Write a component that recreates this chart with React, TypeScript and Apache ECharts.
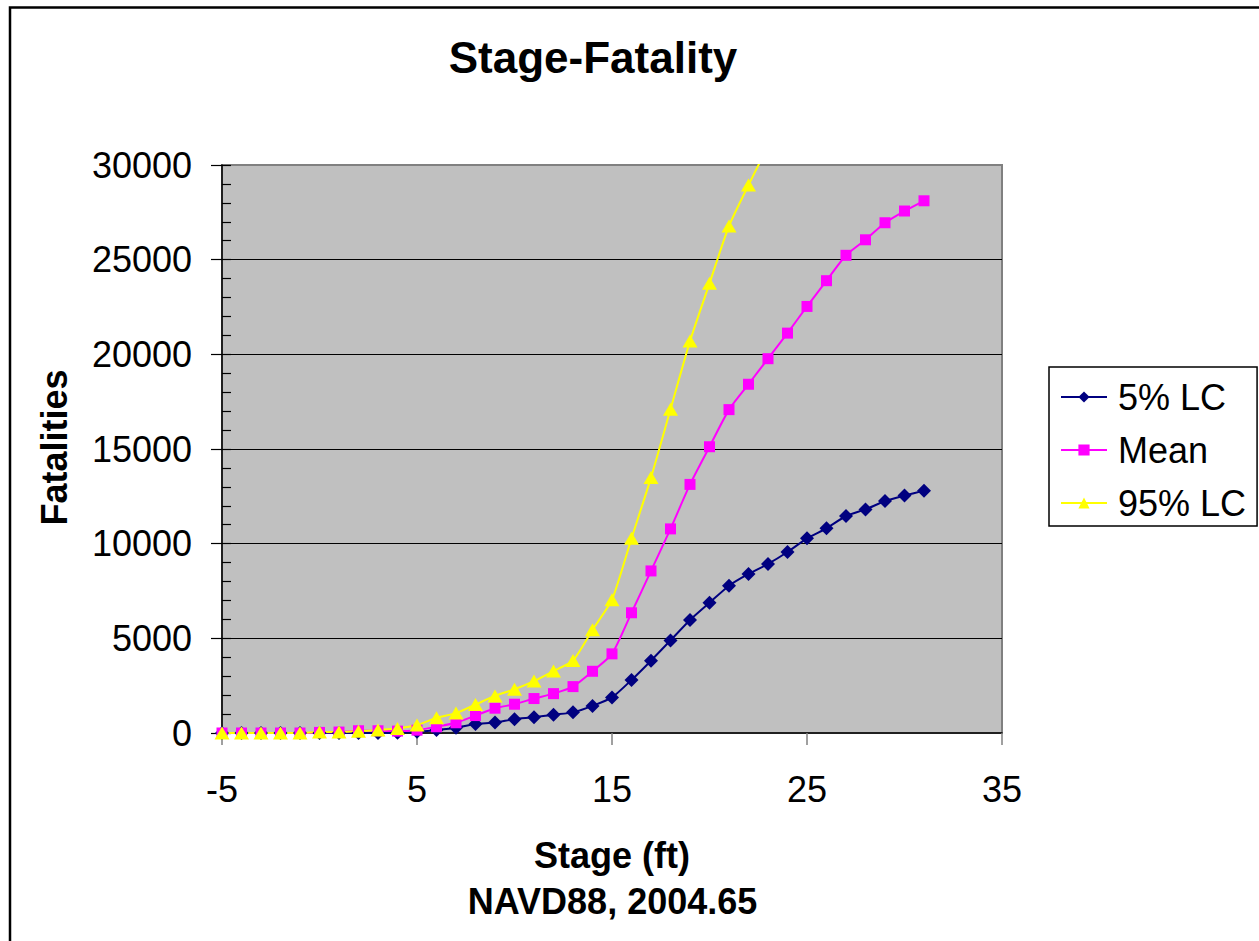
import React, { useEffect, useRef } from "react";
import * as echarts from "echarts";

const stages = [-5, -4, -3, -2, -1, 0, 1, 2, 3, 4, 5, 6, 7, 8, 9, 10, 11, 12, 13, 14, 15, 16, 17, 18, 19, 20, 21, 22, 23, 24, 25, 26, 27, 28, 29, 30, 31];
const lc5 = [0, 0, 0, 0, 0, 0, 0, 0, 0, 10, 60, 160, 280, 470, 560, 730, 830, 970, 1090, 1430, 1880, 2800, 3820, 4890, 5970, 6880, 7780, 8400, 8930, 9560, 10280, 10810, 11460, 11810, 12250, 12540, 12800];
const mean = [0, 0, 0, 0, 0, 30, 50, 120, 120, 100, 150, 330, 540, 920, 1310, 1520, 1820, 2080, 2450, 3260, 4180, 6350, 8560, 10780, 13130, 15120, 17080, 18420, 19770, 21120, 22530, 23890, 25230, 26050, 26950, 27570, 28110];
const lc95Stages = [-5, -4, -3, -2, -1, 0, 1, 2, 3, 4, 5, 6, 7, 8, 9, 10, 11, 12, 13, 14, 15, 16, 17, 18, 19, 20, 21, 22, 23];
const lc95 = [0, 0, 0, 0, 0, 50, 50, 90, 160, 240, 420, 800, 1050, 1500, 1960, 2310, 2740, 3270, 3830, 5450, 7040, 10280, 13490, 17100, 20700, 23750, 26780, 28940, 31000];
const seriesNames = ["5% LC", "Mean", "95% LC"];

const FONT = "'Liberation Sans', Arial, sans-serif";

export default function App() {
  const ref = useRef<HTMLDivElement>(null);
  useEffect(() => {
    if (!ref.current) return;
    const chart = echarts.init(ref.current, undefined, { renderer: "svg" });
    const yCommon = { type: "value", min: 0, max: 30000, interval: 5000, gridIndex: 0, position: "left" };
    chart.setOption({
      animation: false,
      backgroundColor: "#ffffff",
      textStyle: { fontFamily: FONT },
      grid: {
        left: 222, top: 165, width: 780, height: 568,
        show: true, backgroundColor: "#C0C0C0", borderColor: "#808080", borderWidth: 2,
        containLabel: false,
      },
      legend: {
        data: seriesNames,
        orient: "vertical",
        left: 1049, top: 367,
        padding: [12, 11, 5, 11],
        itemGap: 17,
        itemWidth: 46,
        itemHeight: 14,
        borderColor: "#000000",
        borderWidth: 1.5,
        selectedMode: false,
        textStyle: { fontFamily: FONT, fontSize: 36, color: "#000000", padding: [0, 0, 0, 6] },
      },
      xAxis: {
        type: "value", min: -5, max: 35, interval: 10,
        axisLine: { show: true, onZero: false, lineStyle: { color: "#000000", width: 1.5 } },
        axisTick: { show: true, length: 12, lineStyle: { color: "#808080", width: 1.5 } },
        axisLabel: { fontFamily: FONT, fontSize: 36, color: "#000000", margin: 38 },
        splitLine: { show: false },
      },
      yAxis: [
        {
          ...yCommon,
          axisLine: { show: true, onZero: false, lineStyle: { color: "#000000", width: 1.5 } },
          axisTick: { show: true, inside: true, length: 9, lineStyle: { color: "#000000", width: 1.2 } },
          minorTick: { show: true, splitNumber: 5, length: 9, lineStyle: { color: "#000000", width: 1.2 } },
          axisLabel: { fontFamily: FONT, fontSize: 36, color: "#000000", margin: 30, formatter: (v: number) => String(v) },
          splitLine: { show: true, showMaxLine: false, showMinLine: false, lineStyle: { color: "#000000", width: 1.2 } },
        },
        {
          ...yCommon,
          axisLine: { show: false, onZero: false },
          axisTick: { show: true, inside: false, length: 11, lineStyle: { color: "#000000", width: 1.2 } },
          axisLabel: { show: false },
          splitLine: { show: false },
        },
      ],
      series: [
        {
          name: seriesNames[0], type: "line", yAxisIndex: 0,
          data: stages.map((s, i) => [s, lc5[i]]),
          symbol: "diamond", symbolSize: 14, showAllSymbol: true, smooth: 0.2,
          lineStyle: { color: "#000080", width: 2 },
          itemStyle: { color: "#000080" },
        },
        {
          name: seriesNames[1], type: "line", yAxisIndex: 0,
          data: stages.map((s, i) => [s, mean[i]]),
          symbol: "rect", symbolSize: 11, showAllSymbol: true, smooth: 0.2,
          lineStyle: { color: "#FF00FF", width: 2 },
          itemStyle: { color: "#FF00FF" },
        },
        {
          name: seriesNames[2], type: "line", yAxisIndex: 0,
          data: lc95Stages.map((s, i) => [s, lc95[i]]),
          symbol: "triangle", symbolSize: [15, 13], showAllSymbol: true, smooth: 0.2, clip: true,
          lineStyle: { color: "#FFFF00", width: 2 },
          itemStyle: { color: "#FFFF00" },
        },
      ],
      graphic: [
        {
          type: "rect", silent: true, z: 100,
          shape: { x: 10, y: 7.5, width: 1400, height: 1100 },
          style: { fill: "none", stroke: "#000000", lineWidth: 2.5 },
        },
        {
          type: "text", x: 593, y: 57,
          style: { text: "Stage-Fatality", font: `bold 44px ${FONT}`, fill: "#000000", textAlign: "center", textVerticalAlign: "middle" },
        },
        {
          type: "text", x: 612, y: 855,
          style: { text: "Stage (ft)", font: `bold 36px ${FONT}`, fill: "#000000", textAlign: "center", textVerticalAlign: "middle" },
        },
        {
          type: "text", x: 612.5, y: 901,
          style: { text: "NAVD88, 2004.65", font: `bold 36px ${FONT}`, fill: "#000000", textAlign: "center", textVerticalAlign: "middle" },
        },
        {
          type: "text", x: 54.6, y: 447.5, rotation: Math.PI / 2,
          style: { text: "Fatalities", font: `bold 36px ${FONT}`, fill: "#000000", textAlign: "center", textVerticalAlign: "middle" },
        },
      ],
    });
    return () => chart.dispose();
  }, []);
  return <div ref={ref} style={{ position: "fixed", left: 0, top: 0, width: 1259, height: 941, background: "#ffffff" }} />;
}
